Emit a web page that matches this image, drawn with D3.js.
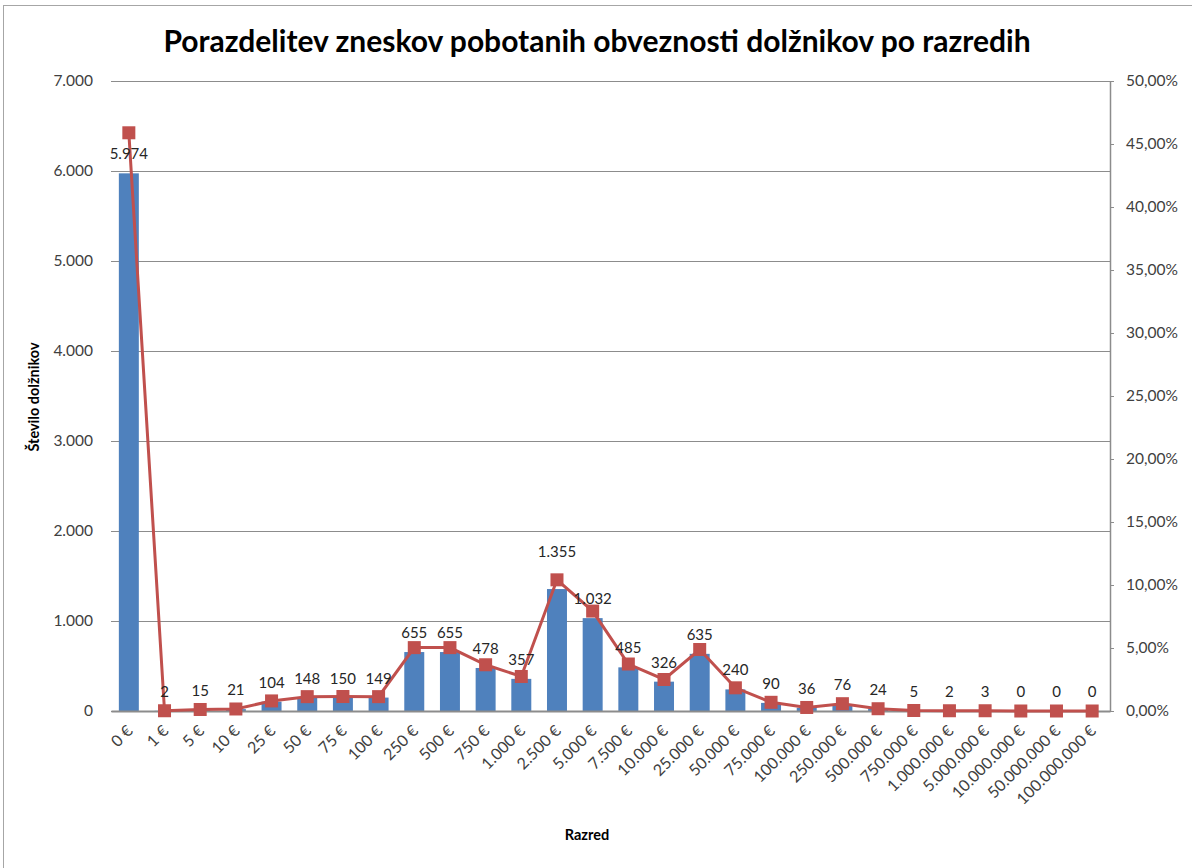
<!DOCTYPE html>
<meta charset="utf-8">
<script src="https://cdn.jsdelivr.net/npm/d3@7"></script>
<style>
body { margin: 0; background: #fff; }
text { font-family: Lato, "Open Sans", sans-serif; fill: #262626; }
.title { font-weight: bold; font-size: 30px; fill: #000; }
.axis-title { font-weight: bold; font-size: 14.5px; fill: #000; }
.tick-lab { font-size: 15.5px; fill: #404040; }
.xlab { font-size: 16px; fill: #404040; }
.dlab { font-size: 15px; fill: #262626; }
</style>
<body>
<div id="chart"></div>
<script>
// data
var razredi = ["0 €", "1 €", "5 €", "10 €", "25 €", "50 €", "75 €", "100 €", "250 €", "500 €",
  "750 €", "1.000 €", "2.500 €", "5.000 €", "7.500 €", "10.000 €", "25.000 €", "50.000 €",
  "75.000 €", "100.000 €", "250.000 €", "500.000 €", "750.000 €", "1.000.000 €",
  "5.000.000 €", "10.000.000 €", "50.000.000 €", "100.000.000 €"];
var stevilo = [5974, 2, 15, 21, 104, 148, 150, 149, 655, 655, 478, 357, 1355, 1032, 485, 326,
  635, 240, 90, 36, 76, 24, 5, 2, 3, 0, 0, 0];
var delez = [45.89, 0.02, 0.12, 0.16, 0.80, 1.14, 1.15, 1.14, 5.03, 5.03, 3.67, 2.74, 10.41,
  7.93, 3.73, 2.50, 4.88, 1.84, 0.69, 0.28, 0.58, 0.18, 0.04, 0.02, 0.02, 0, 0, 0];
var leftTicks = [0, 1000, 2000, 3000, 4000, 5000, 6000, 7000];
var rightTicks = [0, 5, 10, 15, 20, 25, 30, 35, 40, 45, 50];

var W = 1192, H = 868;
var margin = {top: 81, right: 82, bottom: 157, left: 111};
var width = W - margin.left - margin.right;
var height = H - margin.top - margin.bottom;

var svg = d3.select("#chart").append("svg")
  .attr("width", W).attr("height", H);

// chart border
svg.append("rect")
  .attr("x", 3.5).attr("y", 5.5)
  .attr("width", W + 10).attr("height", H + 10)
  .attr("fill", "none").attr("stroke", "#a6a6a6");

svg.append("text").attr("class", "title")
  .attr("x", 597).attr("y", 52)
  .attr("text-anchor", "middle")
  .text("Porazdelitev zneskov pobotanih obveznosti dolžnikov po razredih");

var g = svg.append("g").attr("transform", "translate(" + margin.left + "," + margin.top + ")");

var x = d3.scaleBand().domain(razredi).range([0, width]).paddingInner(0.44).paddingOuter(0.22);
var xc = function(d) { return x(d) + x.bandwidth() / 2; };
var yL = d3.scaleLinear().domain([0, 7000]).range([height, 0]);
var yR = d3.scaleLinear().domain([0, 50]).range([height, 0]);

var fmtL = function(v) { return d3.format(",")(v).replace(/,/g, "."); };
var fmtR = function(v) { return d3.format(".2f")(v).replace(".", ",") + "%"; };

// gridlines
g.append("g").selectAll("line").data(leftTicks).enter().append("line")
  .attr("x1", 0).attr("x2", width)
  .attr("y1", function(d) { return yL(d) + 0.5; })
  .attr("y2", function(d) { return yL(d) + 0.5; })
  .attr("stroke", "#8c8c8c").attr("stroke-width", 1);

// left axis labels
var leftAxis = d3.axisLeft(yL).tickValues(leftTicks).tickFormat(fmtL).tickSize(0).tickPadding(18);
var la = g.append("g").call(leftAxis);
la.select(".domain").remove();
la.selectAll("text").attr("class", "tick-lab");

// right axis
var rightAxis = d3.axisRight(yR).tickValues(rightTicks).tickFormat(fmtR).tickSizeInner(4).tickSizeOuter(0).tickPadding(12);
var ra = g.append("g").attr("transform", "translate(" + width + ",0)").call(rightAxis);
ra.select(".domain").attr("stroke", "#8c8c8c").attr("stroke-width", 1.5);
ra.selectAll(".tick line").attr("stroke", "#8c8c8c");
ra.selectAll("text").attr("class", "tick-lab");

// bars
g.append("g").selectAll("rect").data(stevilo).enter().append("rect")
  .attr("x", function(d, i) { return x(razredi[i]); })
  .attr("width", x.bandwidth())
  .attr("y", function(d) { return yL(d); })
  .attr("height", function(d) { return height - yL(d); })
  .attr("fill", "#4f81bd");

// x axis
var xAxis = d3.axisBottom(x).tickSize(0).tickPadding(0);
var xa = g.append("g").attr("transform", "translate(0," + height + ")").call(xAxis);
xa.select(".domain").attr("stroke", "#8c8c8c").attr("stroke-width", 2);
xa.selectAll("text")
  .attr("class", "xlab")
  .attr("text-anchor", "end")
  .attr("x", 0).attr("y", 0).attr("dy", 0)
  .attr("transform", "translate(5,21) rotate(-45)");

// line + markers
var line = d3.line()
  .x(function(d, i) { return xc(razredi[i]); })
  .y(function(d) { return yR(d); });
g.append("path").datum(delez)
  .attr("d", line)
  .attr("fill", "none").attr("stroke", "#c0504d").attr("stroke-width", 3);
var ms = 13;
g.append("g").selectAll("rect").data(delez).enter().append("rect")
  .attr("x", function(d, i) { return xc(razredi[i]) - ms / 2; })
  .attr("y", function(d) { return yR(d) - ms / 2; })
  .attr("width", ms).attr("height", ms)
  .attr("fill", "#c0504d");

// data labels (bar values)
var labelNudge = {12: -18};
g.append("g").selectAll("text").data(stevilo).enter().append("text")
  .attr("class", "dlab")
  .attr("text-anchor", "middle")
  .attr("x", function(d, i) { return xc(razredi[i]); })
  .attr("y", function(d, i) { return yL(d) - 14 + (labelNudge[i] || 0); })
  .text(function(d) { return fmtL(d); });

// axis titles
svg.append("text").attr("class", "axis-title")
  .attr("transform", "translate(39,397) rotate(-90)")
  .attr("text-anchor", "middle")
  .text("Število dolžnikov");
svg.append("text").attr("class", "axis-title")
  .attr("x", 587).attr("y", 840)
  .attr("text-anchor", "middle")
  .text("Razred");
</script>
</body>
